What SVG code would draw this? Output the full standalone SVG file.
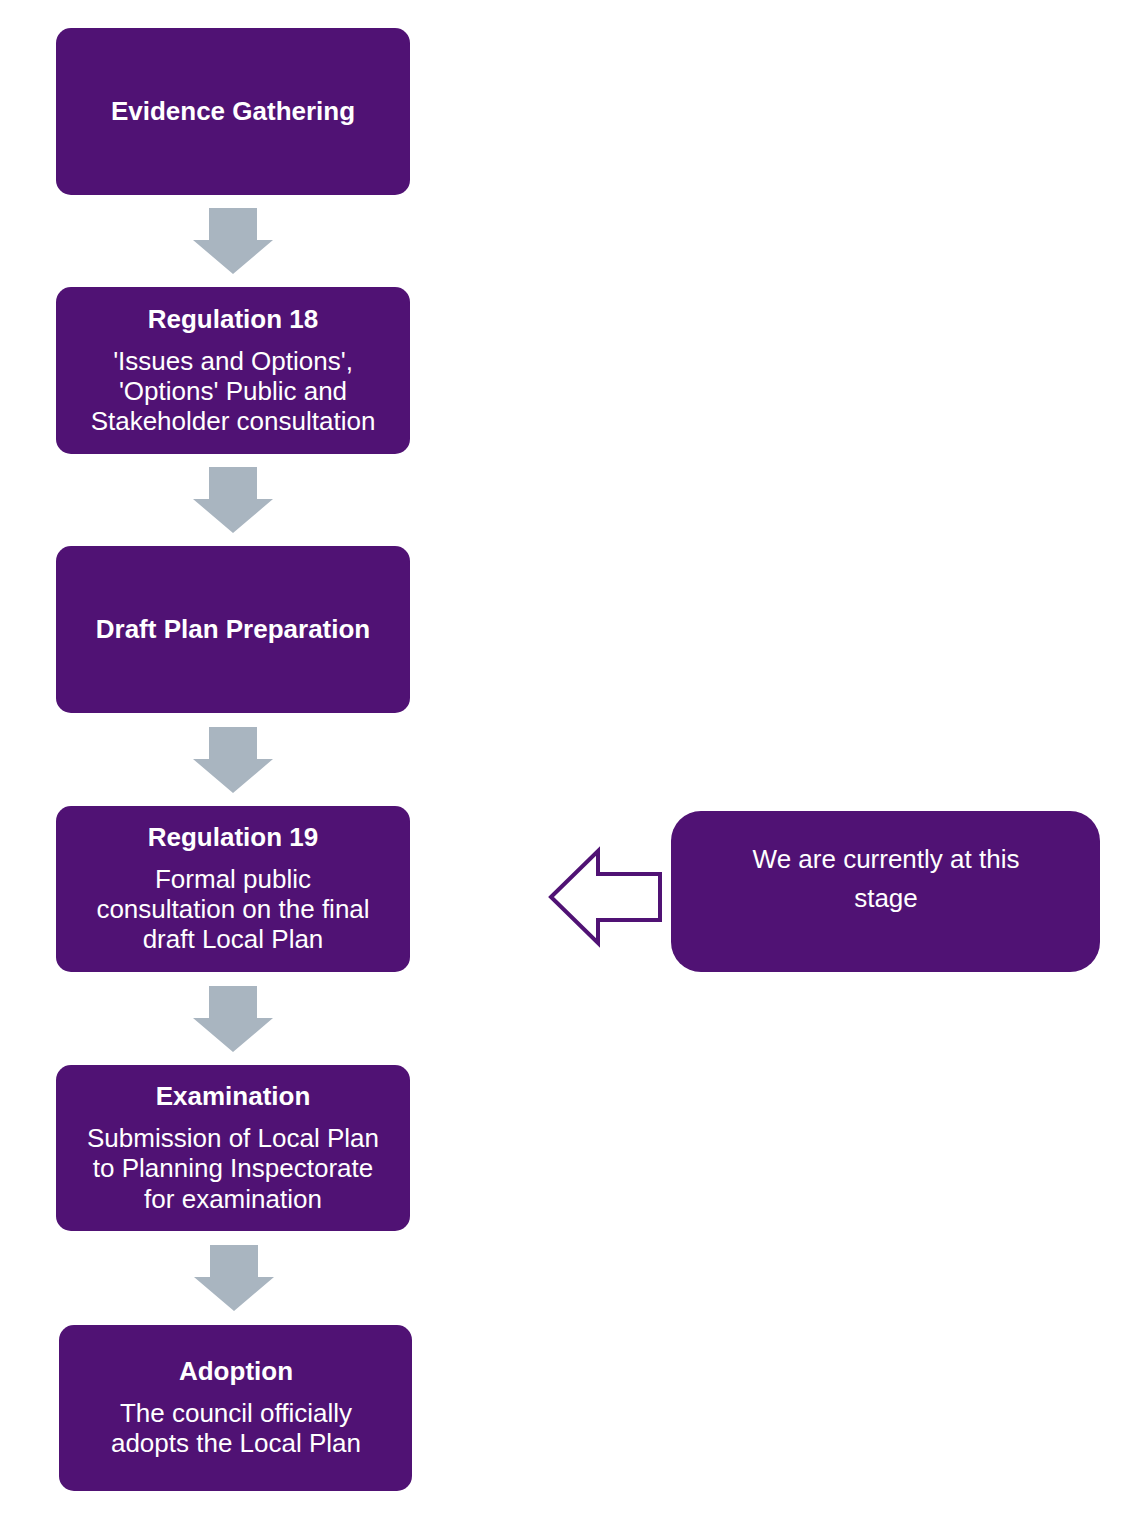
<svg xmlns="http://www.w3.org/2000/svg" width="1128" height="1535" viewBox="0 0 1128 1535">
<style>
.box{fill:#501274}
.t{font-family:"Liberation Sans",Arial,sans-serif;font-size:26px;fill:#fff;text-anchor:middle}
.b{font-weight:bold}
.ga{fill:#a9b5c0}
</style>
<defs>
<path id="down" d="M-24,0 H24 V32 H40 L0,66 L-40,32 H-24 Z"/>
</defs>
<rect width="1128" height="1535" fill="#fff"/>
<g id="connectors">
<use href="#down" class="ga" x="233" y="208"/>
<use href="#down" class="ga" x="233" y="467"/>
<use href="#down" class="ga" x="233" y="727"/>
<use href="#down" class="ga" x="233" y="986"/>
<use href="#down" class="ga" x="234" y="1245"/>
<path d="M551,897 L598,851 V874 H660 V920 H598 V943 Z" fill="#fff" stroke="#501274" stroke-width="4"/>
</g>
<g id="n1"><rect class="box" x="56" y="28" width="354" height="167" rx="15"/>
<text class="t b" x="233" y="120">Evidence Gathering</text></g>
<g id="n2"><rect class="box" x="56" y="287" width="354" height="167" rx="15"/>
<text class="t b" x="233" y="328">Regulation 18</text>
<text class="t" x="233" y="370">'Issues and Options',</text>
<text class="t" x="233" y="400">'Options' Public and</text>
<text class="t" x="233" y="430">Stakeholder consultation</text></g>
<g id="n3"><rect class="box" x="56" y="546" width="354" height="167" rx="15"/>
<text class="t b" x="233" y="638">Draft Plan Preparation</text></g>
<g id="n4"><rect class="box" x="56" y="806" width="354" height="166" rx="15"/>
<text class="t b" x="233" y="846">Regulation 19</text>
<text class="t" x="233" y="888">Formal public</text>
<text class="t" x="233" y="918">consultation on the final</text>
<text class="t" x="233" y="948">draft Local Plan</text></g>
<g id="n5"><rect class="box" x="56" y="1065" width="354" height="166" rx="15"/>
<text class="t b" x="233" y="1105">Examination</text>
<text class="t" x="233" y="1147">Submission of Local Plan</text>
<text class="t" x="233" y="1177">to Planning Inspectorate</text>
<text class="t" x="233" y="1208">for examination</text></g>
<g id="n6"><rect class="box" x="59" y="1325" width="353" height="166" rx="15"/>
<text class="t b" x="236" y="1380">Adoption</text>
<text class="t" x="236" y="1422">The council officially</text>
<text class="t" x="236" y="1452">adopts the Local Plan</text></g>
<g id="current"><rect class="box" x="671" y="811" width="429" height="161" rx="30"/>
<text class="t" x="886" y="868">We are currently at this</text>
<text class="t" x="886" y="907">stage</text></g>
</svg>
